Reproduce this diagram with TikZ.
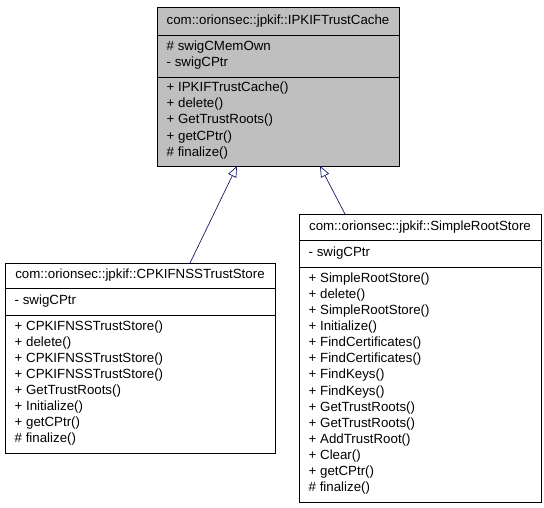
\documentclass[tikz,border=0pt]{standalone}
\usepackage{fontspec}
\setmainfont{Liberation Sans}
\usetikzlibrary{arrows.meta}
\definecolor{hdrgray}{RGB}{191,191,191}
\definecolor{edgeblue}{RGB}{25,25,112}
\tikzset{
  classbox/.style={draw=black, line width=0.8pt, anchor=north west, inner sep=0pt},
  rowtext/.style={anchor=west, inner sep=0pt, font=\fontsize{13.3}{16}\selectfont},
  titletext/.style={anchor=center, inner sep=0pt, font=\fontsize{13.3}{16}\selectfont},
  sepline/.style={draw=black, line width=0.8pt},
  inh/.style={draw=edgeblue, line width=0.7pt, -{Triangle[open, length=11pt, width=9pt, fill=white]}}
}
\begin{document}
\begin{tikzpicture}[x=1pt, y=-1pt]
\useasboundingbox (0,0) rectangle (544,507);
% ---------- top class ----------
\node[classbox, fill=hdrgray, minimum width=242pt, minimum height=159pt] (top) at (157,7) {};
\draw[sepline] (157,35) -- (399,35);
\draw[sepline] (157,77) -- (399,77);
\node[titletext] (topt) at (278,21) {com::orionsec::jpkif::IPKIFTrustCache};
\node[rowtext] (ta1) at (166.5,47) {\# swigCMemOwn};
\node[rowtext] (ta2) at (166.5,63) {- swigCPtr};
\foreach \txt [count=\i from 0] in {+ IPKIFTrustCache(), + delete(), + GetTrustRoots(), + getCPtr(), \# finalize()}
  \node[rowtext] (tm\i) at (166.5,{88.3+16.1*\i}) {\txt};
% ---------- left class ----------
\node[classbox, fill=white, minimum width=270pt, minimum height=190pt] (left) at (5,263) {};
\draw[sepline] (5,288) -- (275,288);
\draw[sepline] (5,315) -- (275,315);
\node[titletext] (leftt) at (140,275.5) {com::orionsec::jpkif::CPKIFNSSTrustStore};
\node[rowtext] (la1) at (14.5,301) {- swigCPtr};
\foreach \txt [count=\i from 0] in {+ CPKIFNSSTrustStore(), + delete(), + CPKIFNSSTrustStore(), + CPKIFNSSTrustStore(), + GetTrustRoots(), + Initialize(), + getCPtr(), \# finalize()}
  \node[rowtext] (lm\i) at (14.5,{326.6+16.1*\i}) {\txt};
% ---------- right class ----------
\node[classbox, fill=white, minimum width=242pt, minimum height=288pt] (right) at (299,214) {};
\draw[sepline] (299,240) -- (541,240);
\draw[sepline] (299,267) -- (541,267);
\node[titletext] (rightt) at (420,227.5) {com::orionsec::jpkif::SimpleRootStore};
\node[rowtext] (ra1) at (308.5,253) {- swigCPtr};
\foreach \txt [count=\i from 0] in {+ SimpleRootStore(), + delete(), + SimpleRootStore(), + Initialize(), + FindCertificates(), + FindCertificates(), + FindKeys(), + FindKeys(), + GetTrustRoots(), + GetTrustRoots(), + AddTrustRoot(), + Clear(), + getCPtr(), \# finalize()}
  \node[rowtext] (rm\i) at (308.5,{278.9+16.1*\i}) {\txt};
% ---------- inheritance ----------
\coordinate (lfrom) at (190,263);
\coordinate (lto) at (237,166);
\coordinate (rfrom) at (345,214);
\coordinate (rto) at (320,166);
\draw[inh] (lfrom) -- (lto);
\draw[inh] (rfrom) -- (rto);
\end{tikzpicture}
\end{document}
